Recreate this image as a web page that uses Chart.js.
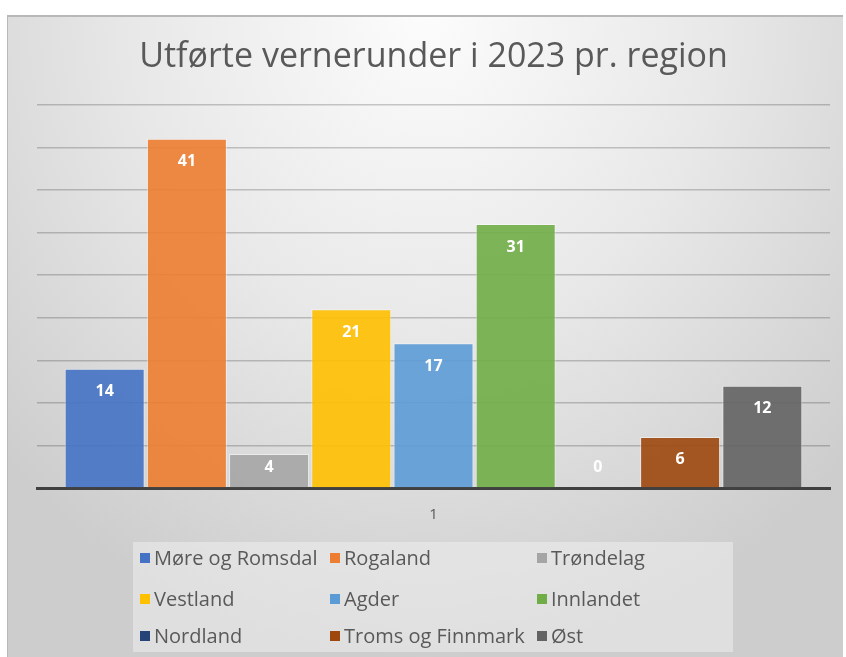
<!DOCTYPE html>
<html>
<head>
<meta charset="utf-8">
<script src="https://cdn.jsdelivr.net/npm/chart.js@4.4.0/dist/chart.umd.min.js"></script>
<style>
body { margin: 0; background: #fff; width: 846px; height: 657px; overflow: hidden; position: relative; font-family: "Open Sans", sans-serif; }
#ramme {
    position: absolute; left: 7px; top: 15px; width: 836px; height: 642px;
    background: radial-gradient(ellipse 70% 100% at 50% 0%, #fcfcfc 0%, #e8e8e8 50%, #cdcdcd 100%);
    box-shadow: inset 1px 2px 0 #b8b8b8;
}
#lerret { position: absolute; left: 0; top: 0; }
#forklaring {
    position: absolute; left: 126px; top: 527px; width: 600px; height: 110px;
    background: rgba(238, 238, 238, 0.55);
}
.punkt { position: absolute; font-size: 20px; color: #595959; white-space: nowrap; line-height: 22px; }
.punkt span.boks { display: inline-block; width: 10px; height: 10px; margin-right: 4px; vertical-align: 2px; }
</style>
</head>
<body>
<div id="ramme">
    <canvas id="lerret" width="836" height="642"></canvas>
    <div id="forklaring"></div>
</div>
<script>
// data lest av figuren
var kategorier = ['1'];
var regioner = ['Møre og Romsdal', 'Rogaland', 'Trøndelag', 'Vestland', 'Agder', 'Innlandet', 'Nordland', 'Troms og Finnmark', 'Øst'];
var antall = [14, 41, 4, 21, 17, 31, 0, 6, 12];
var yTicks = [0, 5, 10, 15, 20, 25, 30, 35, 40, 45];

// farger (excel-tema)
var farger = [
    'rgba(68,114,196,0.9)',
    'rgba(237,125,49,0.9)',
    'rgba(165,165,165,0.9)',
    'rgba(255,192,0,0.9)',
    'rgba(91,155,213,0.9)',
    'rgba(112,173,71,0.9)',
    'rgba(38,68,120,0.9)',
    'rgba(158,72,14,0.9)',
    'rgba(99,99,99,0.9)'
];

var datasett = regioner.map(function (navn, i) {
    return {
        label: navn,
        data: [antall[i]],
        backgroundColor: farger[i],
        borderColor: 'rgba(255,255,255,0.45)',
        borderWidth: 1,
        categoryPercentage: 0.933,
        barPercentage: 0.973
    };
});

// verdiene inne i toppen av stolpene
var verdiEtiketter = {
    id: 'verdiEtiketter',
    afterDatasetsDraw: function (chart) {
        var ctx = chart.ctx;
        var bunn = chart.scales.y.getPixelForValue(0);
        ctx.save();
        ctx.font = 'bold 16px "Open Sans"';
        ctx.fillStyle = '#ffffff';
        ctx.textAlign = 'center';
        ctx.textBaseline = 'middle';
        chart.data.datasets.forEach(function (ds, i) {
            chart.getDatasetMeta(i).data.forEach(function (stolpe, j) {
                var y = Math.min(stolpe.y + 23, bunn - 21);
                ctx.fillText(ds.data[j], stolpe.x, y);
            });
        });
        ctx.restore();
    }
};

var ctx = document.getElementById('lerret').getContext('2d');
var graf = new Chart(ctx, {
    type: 'bar',
    data: {
        labels: kategorier,
        datasets: datasett
    },
    options: {
        responsive: false,
        animation: false,
        devicePixelRatio: 1,
        layout: {
            padding: {left: 30, right: 13, top: 0, bottom: 115}
        },
        plugins: {
            legend: {display: false},
            tooltip: {enabled: false},
            title: {
                display: true,
                text: 'Utførte vernerunder i 2023 pr. region',
                color: '#595959',
                font: {family: 'Open Sans', size: 34, weight: 'normal', lineHeight: 1.2},
                padding: {top: 22, bottom: 27}
            }
        },
        scales: {
            x: {
                grid: {display: false, drawTicks: false},
                border: {display: true, color: '#404040', width: 3},
                ticks: {color: '#595959', font: {family: 'Open Sans', size: 15}, padding: 18}
            },
            y: {
                min: 0,
                max: 45,
                afterBuildTicks: function (akse) {
                    akse.ticks = yTicks.map(function (v) { return {value: v}; });
                },
                ticks: {display: false},
                grid: {color: 'rgba(0,0,0,0.2)', lineWidth: 1.5, drawTicks: false},
                border: {display: false}
            }
        }
    },
    plugins: [verdiEtiketter]
});

// forklaring i tre kolonner, bygget fra datasettene
var kolonneX = [7, 197, 404];
var radY = [16, 57, 94];
var boksen = document.getElementById('forklaring');
graf.data.datasets.forEach(function (ds, i) {
    var el = document.createElement('div');
    el.className = 'punkt';
    el.style.left = kolonneX[i % 3] + 'px';
    el.style.top = (radY[Math.floor(i / 3)] - 11) + 'px';
    var fyll = ds.backgroundColor.replace('0.9)', '1)');
    el.innerHTML = '<span class="boks" style="background:' + fyll + '"></span>' + ds.label;
    boksen.appendChild(el);
});
</script>
</body>
</html>
